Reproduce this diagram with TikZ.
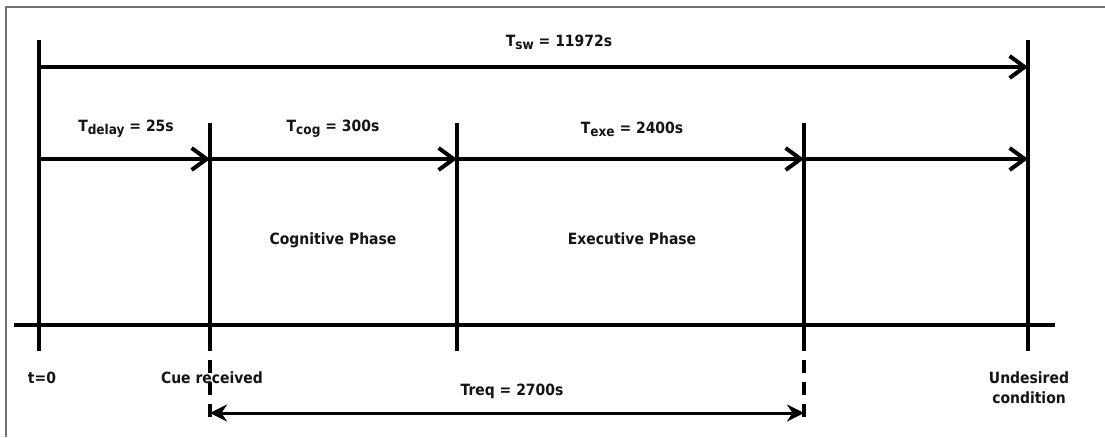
\documentclass[tikz,border=0pt]{standalone}
\usepackage{fontspec}
\setmainfont{DejaVu Sans}[FakeStretch=0.9]
\usetikzlibrary{arrows.meta}

% lowered, slightly smaller subscript text
\newcommand{\lowsub}[1]{\raisebox{-3pt}{\fontsize{13.5}{14}\selectfont #1}}

\tikzset{
  lbl/.style={font=\fontsize{15.5}{20}\selectfont\bfseries, text=black!92, inner sep=0pt, anchor=base, align=center},
  axis/.style={line width=4pt, black},
  tick/.style={line width=3.6pt, black},
  span/.style={line width=4pt, black, -{Straight Barb[length=15pt, width=22pt, line width=4pt]}},
  req/.style={line width=3pt, black, {Stealth[length=17pt, width=17pt]}-{Stealth[length=17pt, width=17pt]}},
  extend/.style={line width=3.6pt, black, dash pattern=on 13pt off 9pt},
  frameline/.style={line width=1.6pt, black!55}
}

\begin{document}
\begin{tikzpicture}[x=1pt, y=-1pt]
  \useasboundingbox (0,0) rectangle (1105,437);
  \fill[white] (0,0) rectangle (1105,437);

  % outer frame (top and left edges)
  \coordinate (fl) at (6,437);
  \coordinate (ftl) at (6,7);
  \coordinate (fr) at (1105,7);
  \draw[frameline] (fl) -- (ftl) -- (fr);

  % tick tops and bottoms
  \coordinate (t0) at (39,40);   \coordinate (b0) at (39,351);
  \coordinate (t1) at (210,123); \coordinate (b1) at (210,351);
  \coordinate (t2) at (457,123); \coordinate (b2) at (457,351);
  \coordinate (t3) at (804,123); \coordinate (b3) at (804,351);
  \coordinate (t4) at (1028,40); \coordinate (b4) at (1028,351);

  % dashed extensions below the axis
  \coordinate (d1a) at (210,360); \coordinate (d1b) at (210,420);
  \coordinate (d3a) at (804,360); \coordinate (d3b) at (804,420);

  % time axis
  \coordinate (axl) at (14,325);
  \coordinate (axr) at (1055,325);
  \draw[axis] (axl) -- (axr);

  % ticks
  \foreach \i in {0,...,4} \draw[tick] (t\i) -- (b\i);
  \draw[extend] (d1a) -- (d1b);
  \draw[extend] (d3a) -- (d3b);

  % overall switching time
  \coordinate (sw0) at (39,67);
  \coordinate (sw1) at (1028,67);
  \draw[span] (sw0) -- (sw1);

  % phase intervals
  \coordinate (p0) at (39,159);
  \coordinate (p1) at (210,159);
  \coordinate (p2) at (457,159);
  \coordinate (p3) at (804,159);
  \coordinate (p4) at (1028,159);
  \draw[span] (p0) -- (p1);
  \draw[span] (p1) -- (p2);
  \draw[span] (p2) -- (p3);
  \draw[span] (p3) -- (p4);

  % required time
  \coordinate (r0) at (210,413);
  \coordinate (r1) at (804,413);
  \draw[req] (r0) -- (r1);

  % labels
  \node[lbl] (lsw)  at (559,46)  {T\lowsub{sw} = 11972s};
  \node[lbl] (ldel) at (126,131) {T\lowsub{delay} = 25s};
  \node[lbl] (lcog) at (333,131) {T\lowsub{cog} = 300s};
  \node[lbl] (lexe) at (632,133) {T\lowsub{exe} = 2400s};
  \node[lbl] (cph)  at (333,244) {Cognitive Phase};
  \node[lbl] (eph)  at (632,244) {Executive Phase};
  \node[lbl] (l0)   at (42,383)  {t=0};
  \node[lbl] (lcue) at (212,383) {Cue received};
  \node[lbl] (lreq) at (512,395) {Treq = 2700s};
  \node[lbl] (lund) at (1029,403) {Undesired\\condition};
\end{tikzpicture}
\end{document}
